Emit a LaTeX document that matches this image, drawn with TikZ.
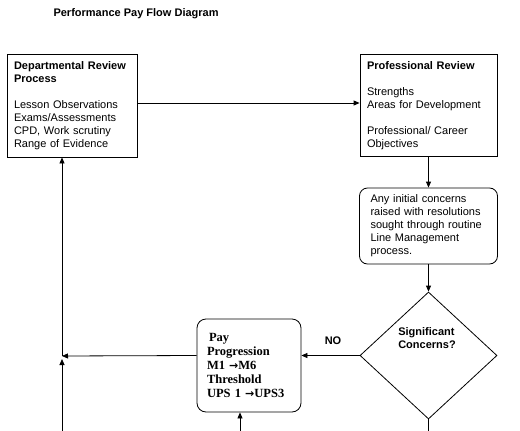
\documentclass[tikz,border=0pt]{standalone}
\usepackage{fontspec}
\setmainfont{Liberation Sans}
\newfontfamily\payfont{Liberation Serif}
\newfontfamily\arrowfont{DejaVu Sans}
\newcommand{\payarrow}{{\arrowfont\fontsize{11}{13}\selectfont →}}
\usetikzlibrary{arrows.meta,shapes.geometric}

\tikzset{
  flowbox/.style={draw, line width=0.8pt, align=left, inner xsep=7pt, inner ysep=0pt,
    font=\fontsize{11}{13}\selectfont},
  roundbox/.style={flowbox, rounded corners=8pt},
  decision/.style={draw, line width=0.8pt, diamond, inner sep=0pt},
  flowline/.style={line width=0.8pt},
}

\begin{document}
\begin{tikzpicture}[x=1pt, y=-1pt, >={Triangle[length=6pt,width=5pt]}]
\useasboundingbox (0,0) rectangle (520,431);
\node[anchor=west, font=\fontsize{11}{13}\selectfont\bfseries] (title) at (50,14) {Performance Pay Flow Diagram};
% top boxes
\node[flowbox, text width=116pt, minimum height=103pt] (dept) at (72,105.5)
  {\textbf{Departmental Review}\\ \textbf{Process}\\[13pt] Lesson Observations\\ Exams/Assessments\\ CPD, Work scrutiny\\ Range of Evidence};
\node[flowbox, text width=123pt, minimum height=102pt] (prof) at (428.5,105.5)
  {\textbf{Professional Review}\\[13pt] Strengths\\ Areas for Development\\[13pt] Professional/ Career\\ Objectives};
\node[roundbox, inner xsep=11pt, text width=116pt, minimum height=76pt] (concern) at (428.5,226)
  {Any initial concerns\\ raised with resolutions\\ sought through routine\\ Line Management\\ process.};
% decision
\node[decision, minimum width=137pt, minimum height=127pt] (sig) at (428.5,355.5) {};
\node[align=left, font=\fontsize{11}{13}\selectfont\bfseries] (sigtext) at (427,338.5) {Significant\\ Concerns?};
\node[font=\fontsize{11}{13}\selectfont\bfseries] (no) at (333,341) {NO};
\node[roundbox, rounded corners=9pt, inner xsep=10pt, text width=84pt, minimum height=93pt,
  font=\payfont\fontsize{12.5}{14.2}\selectfont\bfseries] (pay) at (249,365.5)
  {\hspace{2pt}Pay\\ Progression\\ M1 \payarrow M6\\ Threshold\\ UPS 1 \payarrow UPS3};
% connector points
\coordinate (junc) at (62,356);
\coordinate (lowleft) at (62,431);
\coordinate (lowpay) at (240,431);
\coordinate (lowsig) at (428.5,431);
% connectors
\draw[flowline,->] ([yshift=2.5pt]dept.east) -- ([yshift=2.5pt]prof.west);
\draw[flowline,->] (prof.south) -- (concern.north);
\draw[flowline,->] (concern.south) -- (sig.north);
\draw[flowline] (sig.south) -- (lowsig);
\draw[flowline,->] (sig.west) -- (sig.west -| pay.east);
\draw[flowline,->] (sig.west -| pay.west) -- (junc);
\draw[flowline,->] (lowleft) -- ([yshift=-3pt]junc);
\draw[flowline,->] (junc) -- (junc |- dept.south);
\draw[flowline,->] (lowpay) -- (lowpay |- pay.south);
\end{tikzpicture}
\end{document}
